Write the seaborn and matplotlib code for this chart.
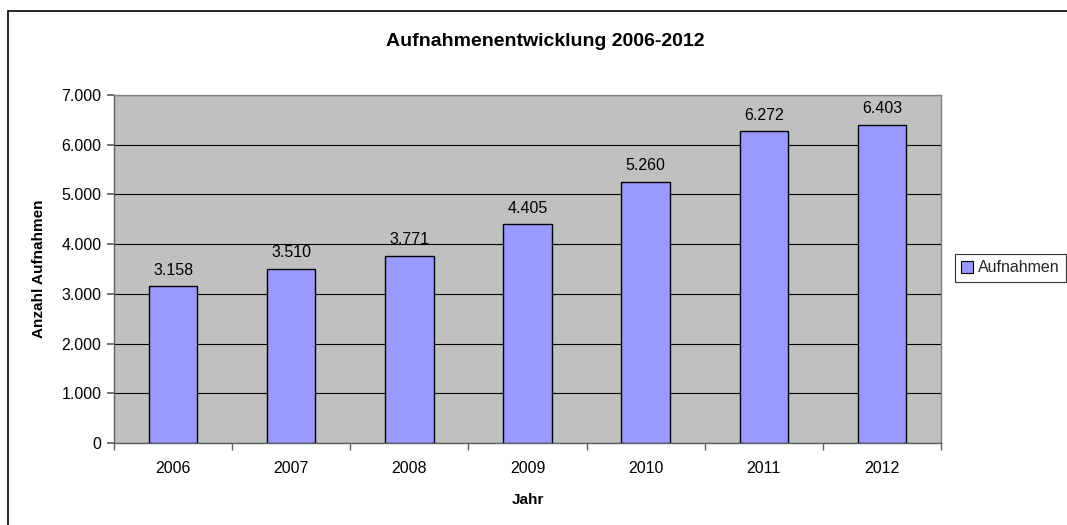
import matplotlib
matplotlib.use("Agg")
import matplotlib.pyplot as plt
import seaborn as sns
import pandas as pd
from matplotlib.patches import Rectangle, Patch
from matplotlib.ticker import FuncFormatter

years = ["2006", "2007", "2008", "2009", "2010", "2011", "2012"]
values = [3158, 3510, 3771, 4405, 5260, 6272, 6403]
series_name = "Aufnahmen"

sns.set_theme(style="white")
plt.rcParams['font.family'] = ['Liberation Sans', 'DejaVu Sans']

W, H = 1067, 525
fig = plt.figure(figsize=(W / 100, H / 100), dpi=100)
ax = fig.add_axes([114 / W, 1 - 443 / H, (941 - 114) / W, (443 - 95) / H])

df = pd.DataFrame({"Jahr": years, "Anzahl": values})
sns.barplot(data=df, x="Jahr", y="Anzahl", color="#9999FF", saturation=1,
            width=0.41, edgecolor="black", linewidth=1.0, ax=ax, zorder=3)

ax.set_facecolor("#C0C0C0")
ax.set_ylim(0, 7000)
ax.set_xlim(-0.5, len(years) - 0.5)
ax.set_yticks(range(0, 7001, 1000))
ax.yaxis.set_major_formatter(FuncFormatter(lambda v, p: f"{int(v):,}".replace(",", ".")))
ax.grid(axis="y", color="black", linewidth=0.8, zorder=1)
ax.set_axisbelow(True)
for s in ["top", "right"]:
    ax.spines[s].set_color("#808080")
    ax.spines[s].set_linewidth(1.0)
for s in ["left", "bottom"]:
    ax.spines[s].set_color("#606060")
    ax.spines[s].set_linewidth(1.0)

ax.tick_params(axis="y", which="major", left=True, length=5, color="#606060", labelsize=11.5, pad=4, labelcolor="black")
ax.set_xticks([i + 0.5 for i in range(-1, len(years))], minor=True)
ax.tick_params(axis="x", which="minor", bottom=True, length=5, color="#606060")
ax.tick_params(axis="x", which="major", bottom=False, labelsize=11.5, pad=7, labelcolor="black")

for i, v in enumerate(values):
    ax.text(i, v + 170, f"{v:,}".replace(",", "."), ha="center", va="bottom", fontsize=11.5, color="black")

ax.set_xlabel("Jahr", fontsize=11, fontweight="bold", labelpad=12, color="black")
ax.set_ylabel("Anzahl Aufnahmen", fontsize=11, fontweight="bold", labelpad=11, color="black")

fig.text(545 / W, 1 - 42 / H, "Aufnahmenentwicklung 2006-2012", ha="center", va="center",
         fontsize=14, fontweight="bold", color="black")

# outer chart border
fig.patches.append(Rectangle((8 / W, -0.1), 1.2, 1 - 11 / H + 0.1, transform=fig.transFigure,
                             fill=False, edgecolor="black", linewidth=1.2, zorder=0))

handle = Patch(facecolor="#9999FF", edgecolor="black", linewidth=0.8)
leg = fig.legend([handle], [series_name], loc="center left", bbox_to_anchor=(955 / W, 1 - 268 / H),
                 frameon=True, fancybox=False, fontsize=11.5, handlelength=0.7, handleheight=0.7,
                 handletextpad=0.35, borderpad=0.4, borderaxespad=0)
leg.get_frame().set_edgecolor("black")
leg.get_frame().set_linewidth(0.8)

fig.savefig("out.png", dpi=100)
